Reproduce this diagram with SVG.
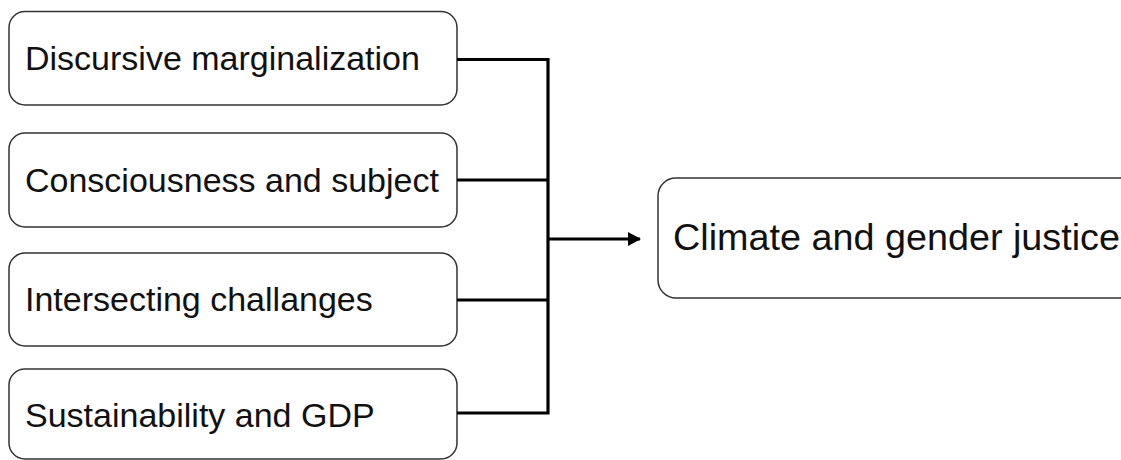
<svg xmlns="http://www.w3.org/2000/svg" width="1121" height="460" viewBox="0 0 1121 460">
<style>
.box{fill:#fff;stroke:#333;stroke-width:1.5}
.lbl{font-family:"Liberation Sans",Arial,sans-serif;font-size:34px;fill:#111}
.big{font-family:"Liberation Sans",Arial,sans-serif;font-size:37.5px;fill:#111}
.con{fill:none;stroke:#000;stroke-width:3.2}
</style>
<defs>
<marker id="arr" markerWidth="13" markerHeight="14" refX="12" refY="7" orient="auto" markerUnits="userSpaceOnUse">
<path d="M0,0 L13,7 L0,14 Z" fill="#000"/>
</marker>
</defs>
<rect width="1121" height="460" fill="#fff"/>
<g id="n1"><rect class="box" x="9" y="11.5" width="448" height="93.5" rx="16"/><text class="lbl" x="25" y="70">Discursive marginalization</text></g>
<g id="n2"><rect class="box" x="9" y="133" width="448" height="94" rx="16"/><text class="lbl" x="25" y="192">Consciousness and subject</text></g>
<g id="n3"><rect class="box" x="9" y="253" width="448" height="93" rx="16"/><text class="lbl" x="25" y="311">Intersecting challanges</text></g>
<g id="n4"><rect class="box" x="9" y="369" width="448" height="90" rx="16"/><text class="lbl" x="25" y="427">Sustainability and GDP</text></g>
<g id="n5"><rect class="box" x="658" y="178" width="480" height="120" rx="18"/><text class="big" x="673" y="250" textLength="447" lengthAdjust="spacingAndGlyphs">Climate and gender justice</text></g>
<g id="connectors">
<path class="con" d="M457,59.5 H548 V413 H457"/>
<path class="con" d="M457,180 H548"/>
<path class="con" d="M457,300 H548"/>
<path class="con" d="M548,239 H640" marker-end="url(#arr)"/>
</g>
</svg>
